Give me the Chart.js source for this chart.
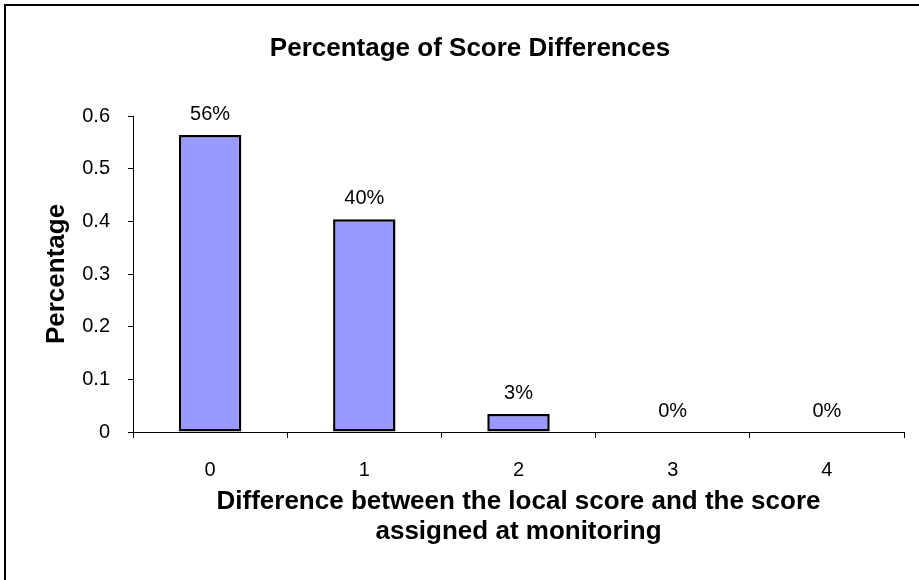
<!DOCTYPE html>
<html>
<head>
<meta charset="utf-8">
<script src="https://cdn.jsdelivr.net/npm/chart.js@4.4.1/dist/chart.umd.min.js"></script>
<style>
  html, body { margin: 0; padding: 0; background: #fff; }
  canvas { display: block; }
</style>
</head>
<body>
<canvas id="score-chart" width="919" height="580"></canvas>
<script>
const categories = ["0", "1", "2", "3", "4"];
const percentages = [0.564, 0.404, 0.034, 0, 0];
const barLabels = ["56%", "40%", "3%", "0%", "0%"];
const yTickLabels = ["0", "0.1", "0.2", "0.3", "0.4", "0.5", "0.6"];

const FONT = "'Liberation Sans', Arial, sans-serif";
Chart.defaults.font.family = FONT;
Chart.defaults.color = "#000";

// outer frame (only top and left edges show in the picture)
const frame = {
  id: "frame",
  beforeDraw(chart) {
    const { ctx, width, height } = chart;
    ctx.save();
    ctx.fillStyle = "#fff";
    ctx.fillRect(0, 0, width, height);
    ctx.fillStyle = "#000";
    ctx.fillRect(4, 4, width - 4, 2);
    ctx.fillRect(4, 4, 2, height - 4);
    ctx.restore();
  },
};

// value labels above each bar
const valueLabels = {
  id: "valueLabels",
  afterDatasetsDraw(chart) {
    const { ctx } = chart;
    const meta = chart.getDatasetMeta(0);
    ctx.save();
    ctx.font = "20px " + FONT;
    ctx.fillStyle = "#000";
    ctx.textAlign = "center";
    ctx.textBaseline = "alphabetic";
    meta.data.forEach((bar, i) => {
      ctx.fillText(barLabels[i], bar.x, bar.y - 15);
    });
    ctx.restore();
  },
};

new Chart(document.getElementById("score-chart"), {
  type: "bar",
  data: {
    labels: categories,
    datasets: [
      {
        data: percentages,
        backgroundColor: "#9999ff",
        borderColor: "#000",
        borderWidth: 2.5,
        borderSkipped: false,
        barPercentage: 0.405,
        categoryPercentage: 1,
      },
    ],
  },
  options: {
    responsive: false,
    animation: false,
    devicePixelRatio: 1,
    layout: { padding: { left: 36, right: 15, top: 0, bottom: 0 } },
    plugins: {
      legend: { display: false },
      tooltip: { enabled: false },
      title: {
        display: true,
        text: "Percentage of Score Differences",
        color: "#000",
        font: { size: 26, weight: "bold" },
        padding: { top: 33.4, bottom: 51.4 },
      },
    },
    scales: {
      x: {
        ticks: { padding: 20, font: { size: 20 }, color: "#000" },
        grid: {
          drawOnChartArea: false,
          drawTicks: true,
          tickLength: 6,
          color: "#000",
          offset: true,
        },
        border: { display: true, color: "#000", width: 1 },
        title: {
          display: true,
          text: [
            "Difference between the local score and the score",
            "assigned at monitoring",
          ],
          color: "#000",
          font: { size: 26, weight: "bold", lineHeight: "30px" },
          padding: { top: 0, bottom: 33 },
        },
        afterFit(scale) {
          scale.height = 148;
        },
      },
      y: {
        min: 0,
        max: 0.6,
        ticks: {
          stepSize: 0.1,
          padding: 18,
          font: { size: 20 },
          color: "#000",
          callback: (value, index) => yTickLabels[index],
        },
        grid: {
          drawOnChartArea: false,
          drawTicks: true,
          tickLength: 5,
          color: "#000",
        },
        border: { display: true, color: "#000", width: 1 },
        title: {
          display: true,
          text: "Percentage",
          color: "#000",
          font: { size: 26, weight: "bold" },
          padding: { top: 5, bottom: 0 },
        },
        afterFit(scale) {
          scale.width = 97;
        },
      },
    },
  },
  plugins: [frame, valueLabels],
});
</script>
</body>
</html>
